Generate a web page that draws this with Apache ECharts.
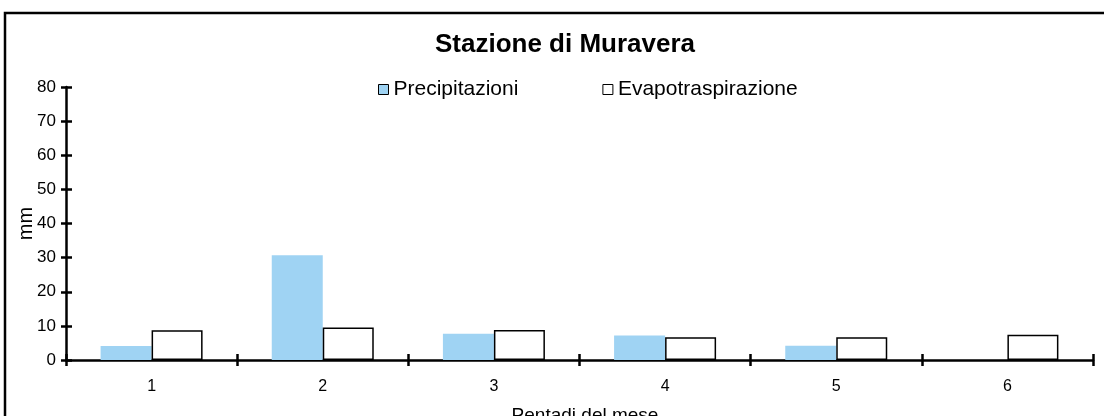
<!DOCTYPE html>
<html><head><meta charset="utf-8">
<script src="https://cdn.jsdelivr.net/npm/echarts@6/dist/echarts.min.js"></script>
<style>html,body{margin:0;padding:0;background:#fff}#c{width:1104px;height:416px}</style>
</head><body><div id="c"></div>
<script>
const categories = ['1','2','3','4','5','6'];
const precipitazioni = [4.1, 30.7, 7.7, 7.2, 4.2, 0];
const evapotraspirazione = [8.7, 9.5, 8.8, 6.7, 6.7, 7.4];
const yTicks = { min: 0, max: 80, interval: 10 };

const chart = echarts.init(document.getElementById('c'));
const font = 'Liberation Sans, Arial, sans-serif';
chart.setOption({
  animation: false,
  backgroundColor: '#fff',
  graphic: [{
    type: 'rect', shape: { x: 5, y: 13, width: 1110, height: 420 },
    style: { fill: 'none', stroke: '#000', lineWidth: 2.5 }, silent: true, z: -1
  }],
  title: [
    { text: 'Stazione di Muravera', left: 560, top: 27, textAlign: 'center',
      textStyle: { fontFamily: font, fontWeight: 'bold', fontSize: 26, color: '#000' } },
    { text: 'Pentadi del mese', left: 580, top: 401, textAlign: 'center',
      textStyle: { fontFamily: font, fontWeight: 'normal', fontSize: 19, color: '#000' } }
  ],
  legend: {
    left: 373, top: 74, itemWidth: 10, itemHeight: 10, itemGap: 84,
    icon: 'rect',
    textStyle: { fontFamily: font, fontSize: 21, color: '#000', padding: [0, 0, 0, 0] },
    data: [
      { name: 'Precipitazioni', itemStyle: { color: '#9fd3f3', borderColor: '#000', borderWidth: 1 } },
      { name: 'Evapotraspirazione', itemStyle: { color: '#fff', borderColor: '#000', borderWidth: 1 } }
    ]
  },
  grid: { left: 66, right: 11, top: 87, bottom: 56, containLabel: false },
  xAxis: [{
    type: 'category', data: categories, boundaryGap: true,
    axisLine: { lineStyle: { color: '#000', width: 2.5 } },
    axisTick: { show: true, length: 6, lineStyle: { color: '#000', width: 2.5 } },
    axisLabel: { fontFamily: font, fontSize: 16, color: '#000', margin: 19 }
  }, {
    type: 'category', data: categories, boundaryGap: true, position: 'bottom',
    axisLine: { show: false },
    axisTick: { show: true, inside: true, length: 6, lineStyle: { color: '#000', width: 2.5 } },
    axisLabel: { show: false }
  }],
  yAxis: [{
    type: 'value', min: yTicks.min, max: yTicks.max, interval: yTicks.interval,
    name: 'mm', nameLocation: 'middle', nameGap: 30, nameRotate: 90, nameMoveOverlap: false,
    nameTextStyle: { fontFamily: font, fontSize: 20, color: '#000' },
    axisLine: { show: true, lineStyle: { color: '#000', width: 2.5 } },
    axisTick: { show: true, length: 5, lineStyle: { color: '#000', width: 2.5 } },
    axisLabel: { fontFamily: font, fontSize: 17, color: '#000', margin: 10 },
    splitLine: { show: false }
  }, {
    type: 'value', min: yTicks.min, max: yTicks.max, interval: yTicks.interval, position: 'left',
    axisLine: { show: false },
    axisTick: { show: true, inside: true, length: 6, lineStyle: { color: '#000', width: 2.5 } },
    axisLabel: { show: false }, splitLine: { show: false }
  }],
  series: [{
    name: 'Precipitazioni', type: 'bar', data: precipitazioni,
    barWidth: 51, barGap: '0%',
    itemStyle: { color: '#9fd3f3' }
  }, {
    name: 'Evapotraspirazione', type: 'bar', data: evapotraspirazione,
    barWidth: 51, barGap: '0%',
    itemStyle: { color: '#fff', borderColor: '#000', borderWidth: 1.5 }
  }]
});
</script></body></html>
